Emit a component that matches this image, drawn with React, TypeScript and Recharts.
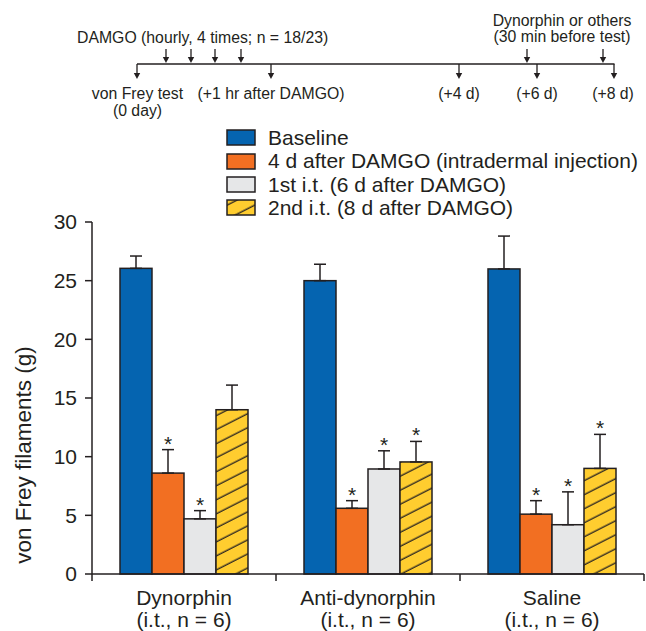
import React from 'react';
import { BarChart, Bar, XAxis, YAxis, ErrorBar, Legend } from 'recharts';

// ---------- data ----------
const categories = ['Dynorphin', 'Anti-dynorphin', 'Saline'];
const categorySubLabels = ['(i.t., n = 6)', '(i.t., n = 6)', '(i.t., n = 6)'];
const yTicks = [0, 5, 10, 15, 20, 25, 30];

const seriesNames = [
  'Baseline',
  '4 d after DAMGO (intradermal injection)',
  '1st i.t. (6 d after DAMGO)',
  '2nd i.t. (8 d after DAMGO)',
];

const baseline = [26.05, 25.0, 26.0];
const baselineErr = [1.05, 1.4, 2.8];
const after4d = [8.6, 5.6, 5.1];
const after4dErr = [2.0, 0.65, 1.15];
const firstIt = [4.7, 8.95, 4.2];
const firstItErr = [0.7, 1.55, 2.8];
const secondIt = [14.0, 9.55, 9.0];
const secondItErr = [2.1, 1.75, 2.9];

const after4dSig = [true, true, true];
const firstItSig = [true, true, true];
const secondItSig = [false, true, true];

// ---------- styles ----------
const INK = '#231F20';
const FONT = '"Liberation Sans", Arial, Helvetica, sans-serif';
const COLORS = ['#0564B0', '#F26F22', '#E6E7E8', '#FFCD2F'];
const HATCHED = [false, false, false, true];
const W = 646;
const H = 631;
const LEFT = 92;
const RIGHT_MARGIN = 2;
const BAND_HALF = (W - LEFT - RIGHT_MARGIN) / categories.length / 2;

const data = categories.map((name, i) => ({
  name,
  baseline: baseline[i],
  baselineErr: [0, baselineErr[i]],
  baselineSig: false,
  after4d: after4d[i],
  after4dErr: [0, after4dErr[i]],
  after4dSig: after4dSig[i],
  firstIt: firstIt[i],
  firstItErr: [0, firstItErr[i]],
  firstItSig: firstItSig[i],
  secondIt: secondIt[i],
  secondItErr: [0, secondItErr[i]],
  secondItSig: secondItSig[i],
}));

const makeShape = (valueKey: string, errKey: string, sigKey: string, color: string, hatched: boolean) =>
  (props: any) => {
    const { x, y, width, height, payload } = props;
    const v = payload[valueKey];
    const e = payload[errKey][1];
    const pxPerUnit = v ? height / v : 0;
    const capY = y - e * pxPerUnit;
    return (
      <g>
        <rect x={x} y={y} width={width} height={height} fill={color} />
        {hatched && <rect x={x} y={y} width={width} height={height} fill="url(#hatchLines)" />}
        <rect x={x} y={y} width={width} height={height} fill="none" stroke={INK} strokeWidth={1.5} />
        {payload[sigKey] && (
          <text x={x + width / 2} y={capY + 1} textAnchor="middle" fontSize={21} fontFamily={FONT} fill={INK}>
            *
          </text>
        )}
      </g>
    );
  };

const CategoryTick = (props: any) => {
  const { x, y, payload } = props;
  const i = categories.indexOf(payload.value);
  return (
    <g>
      <line x1={x - BAND_HALF} x2={x - BAND_HALF} y1={y} y2={y + 7} stroke={INK} strokeWidth={1.5} />
      {i === categories.length - 1 && (
        <line x1={x + BAND_HALF} x2={x + BAND_HALF} y1={y} y2={y + 7} stroke={INK} strokeWidth={1.5} />
      )}
      <text x={x} y={y + 31} textAnchor="middle" fontSize={21} fontFamily={FONT} fill={INK}>
        {payload.value}
      </text>
      <text x={x} y={y + 53} textAnchor="middle" fontSize={21} fontFamily={FONT} fill={INK}>
        {categorySubLabels[i]}
      </text>
    </g>
  );
};

const LegendBox = () => (
  <div style={{ fontFamily: FONT, fontSize: 21, color: INK }}>
    {seriesNames.map((n, i) => (
      <div key={n} style={{ display: 'flex', alignItems: 'center', height: 23.4 }}>
        <svg width={30} height={17} style={{ marginRight: 12, flex: 'none' }}>
          <rect x={1} y={1} width={28} height={15} fill={COLORS[i]} />
          {HATCHED[i] && <rect x={1} y={1} width={28} height={15} fill="url(#hatchLines)" />}
          <rect x={1} y={1} width={28} height={15} fill="none" stroke={INK} strokeWidth={1.5} />
        </svg>
        <span style={{ whiteSpace: 'nowrap', lineHeight: '23.4px' }}>{n}</span>
      </div>
    ))}
  </div>
);

const DownArrow = ({ x, y1, y2 }: { x: number; y1: number; y2: number }) => (
  <g>
    <line x1={x} x2={x} y1={y1} y2={y2 - 5} stroke={INK} strokeWidth={1.3} />
    <polygon points={`${x - 3.2},${y2 - 6} ${x + 3.2},${y2 - 6} ${x},${y2}`} fill={INK} />
  </g>
);

const Timeline = () => (
  <svg
    width={W}
    height={H}
    style={{ position: 'absolute', left: 0, top: 0, pointerEvents: 'none' }}
  >
    <defs>
      <pattern id="hatchLines" patternUnits="userSpaceOnUse" width={10} height={12.5} patternTransform="rotate(-27)">
        <line x1={0} x2={10} y1={6} y2={6} stroke={INK} strokeWidth={1.3} />
      </pattern>
    </defs>
    <g fontFamily={FONT} fill={INK} fontSize={15.8}>
      <text x={77} y={43}>DAMGO (hourly, 4 times; n = 18/23)</text>
      <text x={562} y={26} textAnchor="middle">Dynorphin or others</text>
      <text x={562} y={42} textAnchor="middle">(30 min before test)</text>
      <text x={137.5} y={99} textAnchor="middle">von Frey test</text>
      <text x={137.5} y={116} textAnchor="middle">(0 day)</text>
      <text x={271} y={99} textAnchor="middle">(+1 hr after DAMGO)</text>
      <text x={459} y={99} textAnchor="middle">(+4 d)</text>
      <text x={537} y={99} textAnchor="middle">(+6 d)</text>
      <text x={613} y={99} textAnchor="middle">(+8 d)</text>
    </g>
    <line x1={137} x2={614.5} y1={64} y2={64} stroke={INK} strokeWidth={1.5} />
    {[166, 191, 215, 241, 527, 603].map((x) => (
      <DownArrow key={'a' + x} x={x} y1={49} y2={63} />
    ))}
    {[137, 271, 459, 537, 614].map((x) => (
      <DownArrow key={'b' + x} x={x} y1={64} y2={79} />
    ))}
    <text
      transform="translate(31,455) rotate(-90)"
      textAnchor="middle"
      fontFamily={FONT}
      fontSize={22.5}
      fill={INK}
    >
      von Frey filaments (g)
    </text>
  </svg>
);

const seriesKeys = ['baseline', 'after4d', 'firstIt', 'secondIt'];

export default function App() {
  return (
    <div
      style={{
        position: 'absolute',
        left: 0,
        top: 0,
        width: W,
        height: H,
        background: '#fff',
        fontFamily: FONT,
      }}
    >
      <BarChart
        width={W}
        height={H}
        data={data}
        margin={{ top: 222, right: RIGHT_MARGIN, left: 32, bottom: 0 }}
        barSize={32}
        barGap={0}
      >
        <XAxis
          dataKey="name"
          height={57}
          tickLine={false}
          tickSize={0}
          tickMargin={0}
          axisLine={{ stroke: INK, strokeWidth: 1.5 }}
          tick={<CategoryTick />}
          interval={0}
        />
        <YAxis
          width={60}
          domain={[0, 30]}
          ticks={yTicks}
          tickSize={7}
          tickMargin={8}
          axisLine={{ stroke: INK, strokeWidth: 1.5 }}
          tickLine={{ stroke: INK, strokeWidth: 1.5 }}
          tick={{ fill: INK, fontSize: 21, fontFamily: FONT }}
          interval={0}
        />
        <Legend
          layout="horizontal"
          verticalAlign="middle"
          align="center"
          content={() => <LegendBox />}
          wrapperStyle={{ position: 'absolute', top: 126, left: 226, width: 420, height: 96 }}
        />
        {seriesKeys.map((k, i) => (
          <Bar
            key={k}
            dataKey={k}
            name={seriesNames[i]}
            fill={COLORS[i]}
            isAnimationActive={false}
            shape={makeShape(k, k + 'Err', k + 'Sig', COLORS[i], HATCHED[i])}
          >
            <ErrorBar
              dataKey={k + 'Err'}
              width={6}
              stroke={INK}
              strokeWidth={1.5}
              direction="y"
              isAnimationActive={false}
            />
          </Bar>
        ))}
      </BarChart>
      <Timeline />
    </div>
  );
}
